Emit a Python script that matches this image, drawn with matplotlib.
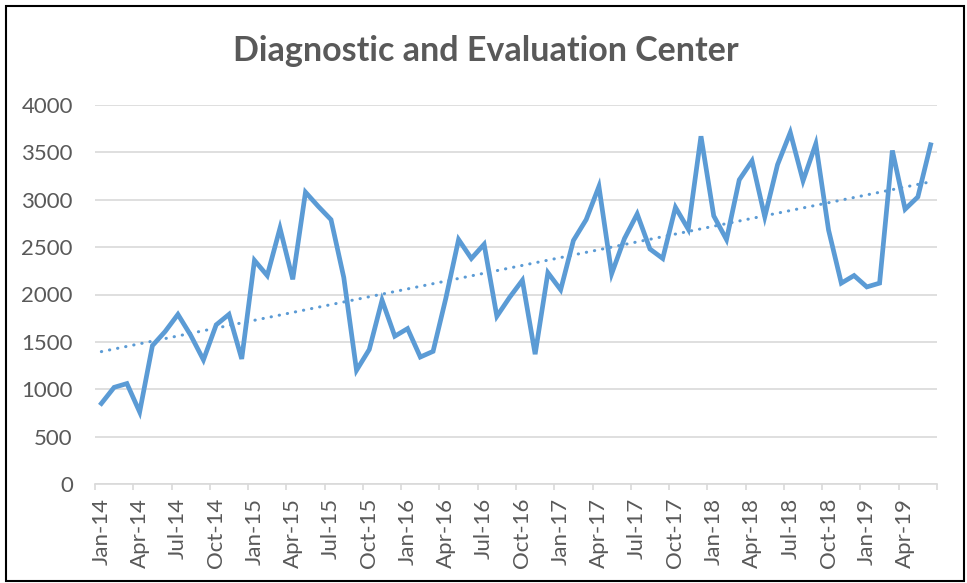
import matplotlib
matplotlib.use("Agg")
import matplotlib.pyplot as plt
import numpy as np
from matplotlib.patches import Rectangle

# monthly values, Jan-14 .. Jun-19
months = ["Jan", "Feb", "Mar", "Apr", "May", "Jun",
          "Jul", "Aug", "Sep", "Oct", "Nov", "Dec"]
years = [14, 15, 16, 17, 18, 19]
labels = [f"{m}-{y}" for y in years for m in months][:66]

values = [850, 1020, 1060, 760, 1460, 1610, 1790, 1570, 1310, 1680, 1790, 1320,
          2360, 2200, 2700, 2160, 3080, 2930, 2790, 2180, 1200, 1420, 1940, 1560,
          1640, 1340, 1400, 1960, 2580, 2380, 2530, 1770, 1970, 2150, 1370, 2230,
          2050, 2570, 2790, 3140, 2220, 2590, 2850, 2480, 2380, 2920, 2690, 3670,
          2830, 2580, 3210, 3410, 2820, 3370, 3710, 3200, 3590, 2680, 2120, 2200,
          2080, 2120, 3520, 2900, 3030, 3580]

y_ticks = [0, 500, 1000, 1500, 2000, 2500, 3000, 3500, 4000]
title = "Diagnostic and Evaluation Center"

plt.rcParams['font.family'] = ['Lato', 'DejaVu Sans']
grey = "#595959"
light = "#d9d9d9"
blue = "#5b9bd5"

W, H = 967, 583
fig = plt.figure(figsize=(W / 100, H / 100), dpi=100)
ax = fig.add_axes([95 / W, 1 - 484 / H, (937 - 95) / W, (484 - 105) / H])

x = np.arange(len(values))
ax.plot(x, values, color=blue, lw=3.4, solid_joinstyle="miter", zorder=3)

# linear trendline
k, b = np.polyfit(x, values, 1)
ax.plot(x, k * x + b, color=blue, lw=2.2, linestyle=(0, (0.1, 2.6)),
        dash_capstyle="round", zorder=3)

ax.set_xlim(-0.5, len(values) - 0.5)
ax.set_ylim(0, 4000)
ax.set_yticks(y_ticks)
ax.yaxis.grid(True, color=light, lw=1.2)
ax.set_axisbelow(True)
ax.tick_params(axis="y", length=0, pad=16, labelsize=16, labelcolor=grey)

# ticks between categories, labels on every third month
ax.set_xticks(np.arange(-0.5, len(values), 3))
ax.set_xticklabels([])
ax.tick_params(axis="x", which="major", length=4, color=light, width=1.2)
ax.set_xticks(x[::3], minor=True)
ax.set_xticklabels(labels[::3], minor=True, rotation=90)
ax.tick_params(axis="x", which="minor", length=0, pad=10, labelsize=16,
               labelcolor=grey)

for s in ["top", "right", "left"]:
    ax.spines[s].set_visible(False)
ax.spines["bottom"].set_color(light)
ax.spines["bottom"].set_linewidth(1.2)

fig.text(486 / W, 1 - 51 / H, title, ha="center", va="center",
         fontsize=24.5, fontweight="bold", color=grey)

fig.patches.append(Rectangle((6 / W, 1 - 581 / H), 958 / W, 575 / H,
                             transform=fig.transFigure, fill=False,
                             edgecolor="black", lw=1.5))

fig.savefig("out.png", dpi=100)
